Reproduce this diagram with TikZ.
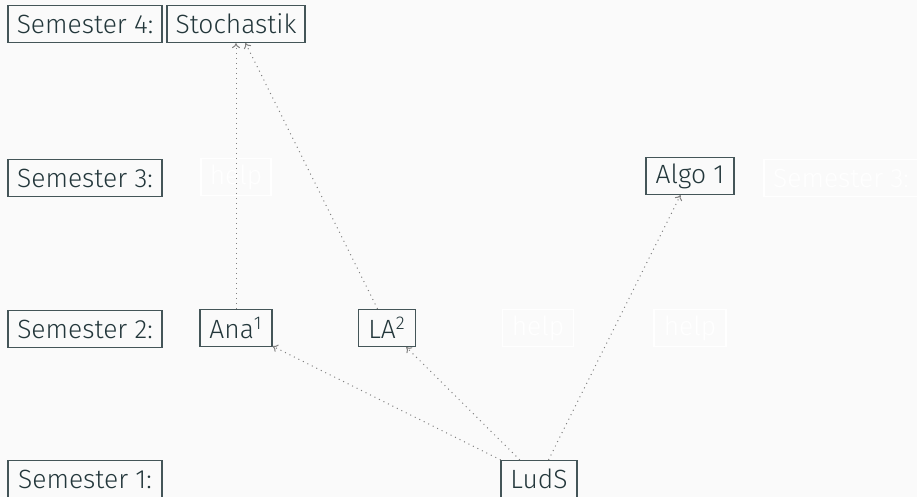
\documentclass[tikz,border=0pt]{standalone}
\usepackage{fontspec}
\setmainfont{Fira Sans Light}
\usetikzlibrary{arrows.meta}
\definecolor{mDark}{HTML}{23373B}
\definecolor{bgc}{HTML}{FAFAFA}
\begin{document}
\begin{tikzpicture}[x=0.5pt,y=-0.5pt,
  box/.style={draw=mDark!85, text=mDark, line width=0.6pt, inner sep=0pt,
    minimum height=18.5pt, font=\fontsize{13.2}{15}\selectfont},
  ghost/.style={box, draw=white, text=white},
  link/.style={draw=gray, dotted, line width=0.5pt, -{To[length=2.5pt,width=4pt]}}]
\fill[bgc] (0,0) rectangle (917,497);
\useasboundingbox (0,0) rectangle (917,497);
% semester labels
\node[box, minimum width=77pt] (s4) at (85,24) {Semester 4:};
\node[box, minimum width=77pt] (s3) at (85,178) {Semester 3:};
\node[box, minimum width=77pt] (s2) at (85,329) {Semester 2:};
\node[box, minimum width=77pt] (s1) at (85,479) {Semester 1:};
% courses
\node[box, minimum width=69pt] (sto) at (236,24) {Stochastik};
\node[ghost, minimum width=35pt] (h1) at (236,177) {help};
\node[box, minimum width=44pt] (algo) at (690,176) {Algo 1};
\node[ghost, minimum width=77pt] (s3r) at (841,178) {Semester 3:};
\node[box, minimum width=36pt] (ana) at (236,328) {Ana\textsuperscript{1}};
\node[box, minimum width=28.5pt] (la) at (387,328) {LA\textsuperscript{2}};
\node[ghost, minimum width=35.5pt] (h2) at (538,328) {help};
\node[ghost, minimum width=36pt] (h3) at (690,328) {help};
\node[box, minimum width=38pt] (luds) at (539,479) {LudS};
% links
\draw[link] (ana) -- (sto);
\draw[link] (la) -- (sto);
\draw[link] (luds) -- (ana);
\draw[link] (luds) -- (la);
\draw[link] (luds) -- (algo);
\end{tikzpicture}
\end{document}
